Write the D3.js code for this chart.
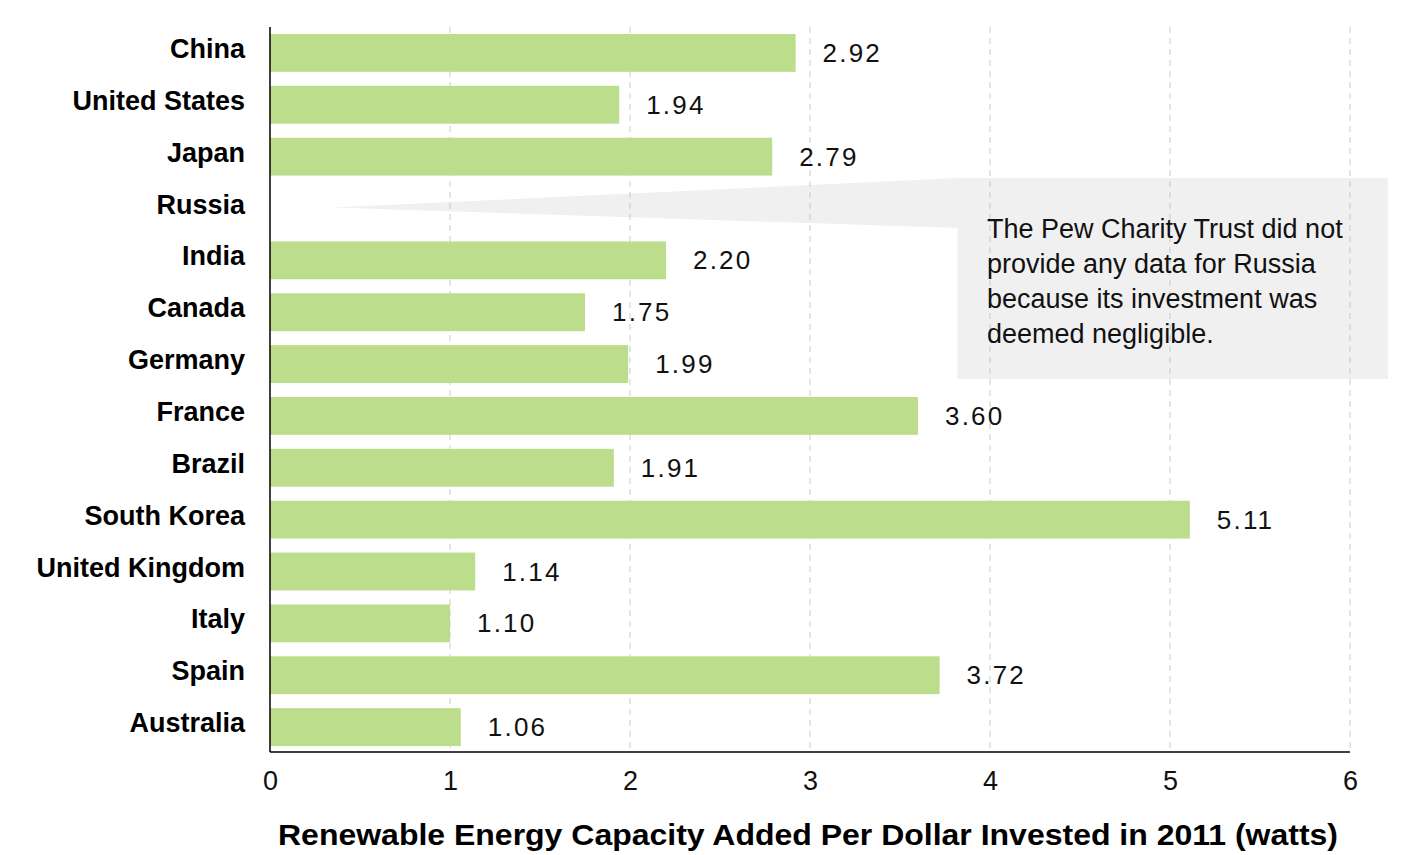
<!DOCTYPE html>
<html>
<head>
<meta charset="utf-8">
<script src="https://cdn.jsdelivr.net/npm/d3@7"></script>
<style>
  html, body { margin: 0; padding: 0; background: #fff; }
  svg { display: block; }
</style>
</head>
<body>
<svg id="chart" width="1410" height="855"></svg>
<script>
const countries = ["China", "United States", "Japan", "Russia", "India", "Canada", "Germany",
  "France", "Brazil", "South Korea", "United Kingdom", "Italy", "Spain", "Australia"];
// bar lengths as drawn in the picture (Italy's bar is drawn at ~1.00 although labelled 1.10)
const barValues = [2.92, 1.94, 2.79, null, 2.20, 1.75, 1.99, 3.60, 1.91, 5.11, 1.14, 1.00, 3.72, 1.06];
// value labels as printed
const valueLabels = ["2.92", "1.94", "2.79", null, "2.20", "1.75", "1.99", "3.60", "1.91", "5.11", "1.14", "1.10", "3.72", "1.06"];
const xTicks = [0, 1, 2, 3, 4, 5, 6];
const axisTitle = "Renewable Energy Capacity Added Per Dollar Invested in 2011 (watts)";
const noteLines = ["The Pew Charity Trust did not", "provide any data for Russia",
  "because its investment was", "deemed negligible."];

(function () {
const data = countries.map((c, i) => ({ country: c, value: barValues[i], label: valueLabels[i] }));

const svg = d3.select("#chart");
const pLeft = 270, pRight = 1350, pTop = 27, pBottom = 752;

const x = d3.scaleLinear().domain([0, 6]).range([pLeft, pRight]);
const y = d3.scaleBand().domain(countries).range([pTop, pBottom + 1])
  .paddingInner(0.27).paddingOuter(0.135);

// Callout (annotation for Russia)
const ry = y("Russia") + y.bandwidth() / 2 - 1;
const boxL = x(3.82), boxR = 1388, boxT = 178, boxB = 379;
svg.append("path")
  .attr("d", `M${x(0.35)},${ry} L${boxL},${boxT} L${boxR},${boxT} L${boxR},${boxB} L${boxL},${boxB} L${boxL},${boxT + 50} Z`)
  .attr("fill", "#f0f0f0");

// Gridlines
svg.append("g").selectAll("line").data(xTicks.filter(d => d > 0)).join("line")
  .attr("x1", d => x(d)).attr("x2", d => x(d))
  .attr("y1", pTop).attr("y2", pBottom)
  .attr("stroke", "#c9c9c9").attr("stroke-width", 1)
  .attr("stroke-dasharray", "6,5");

// Bars
const withVal = data.filter(d => d.value != null);
svg.append("g").selectAll("rect").data(withVal).join("rect")
  .attr("x", x(0))
  .attr("y", d => y(d.country))
  .attr("width", d => x(d.value) - x(0))
  .attr("height", y.bandwidth())
  .attr("fill", "#bcde8c");

// Value labels
svg.append("g").selectAll("text").data(withVal).join("text")
  .attr("x", d => x(d.value) + 27)
  .attr("y", d => y(d.country) + y.bandwidth() / 2 + 9)
  .attr("font-family", "'Liberation Sans', Arial, sans-serif")
  .attr("font-size", 26)
  .attr("letter-spacing", "2.2px")
  .attr("fill", "#111")
  .text(d => d.label);

// Category labels
const yAxis = d3.axisLeft(y).tickSize(0).tickPadding(25);
const gy = svg.append("g").attr("transform", `translate(${pLeft},0)`).call(yAxis);
gy.select(".domain").remove();
gy.selectAll("text")
  .attr("dy", null)
  .attr("y", 5)
  .attr("font-family", "'Liberation Sans', Arial, sans-serif")
  .attr("font-weight", "bold")
  .attr("font-size", 27)
  .attr("fill", "#000");

// X axis
const xAxis = d3.axisBottom(x).tickValues(xTicks).tickFormat(d3.format("d")).tickSize(0).tickPadding(0);
const gx = svg.append("g").attr("transform", `translate(0,${pBottom})`).call(xAxis);
gx.select(".domain").remove();
gx.selectAll("text")
  .attr("dy", null)
  .attr("y", 38)
  .attr("font-family", "'Liberation Sans', Arial, sans-serif")
  .attr("font-size", 27)
  .attr("fill", "#111");

// Axis lines
svg.append("line").attr("x1", pLeft).attr("x2", pRight).attr("y1", pBottom).attr("y2", pBottom)
  .attr("stroke", "#000").attr("stroke-width", 1.5);
svg.append("line").attr("x1", pLeft).attr("x2", pLeft).attr("y1", pTop).attr("y2", pBottom)
  .attr("stroke", "#000").attr("stroke-width", 1.5);

// Axis title
svg.append("text")
  .attr("x", 278).attr("y", 845)
  .attr("font-family", "'Liberation Sans', Arial, sans-serif")
  .attr("font-weight", "bold")
  .attr("font-size", 30)
  .attr("textLength", 1060)
  .attr("lengthAdjust", "spacingAndGlyphs")
  .attr("fill", "#000")
  .text(axisTitle);

// Note text
svg.append("g").selectAll("text").data(noteLines).join("text")
  .attr("x", 987)
  .attr("y", (d, i) => 238 + i * 35)
  .attr("font-family", "'Liberation Sans', Arial, sans-serif")
  .attr("font-size", 27)
  .attr("fill", "#111")
  .text(d => d);
})();
</script>
</body>
</html>
